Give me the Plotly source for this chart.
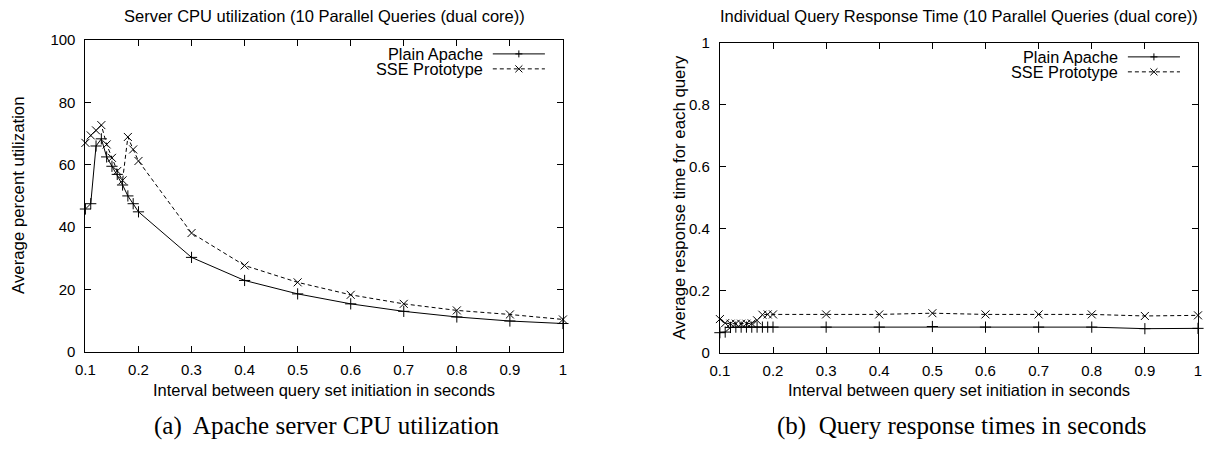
import plotly.graph_objects as go

W, H = 1205, 449
# the photographed page shows up inset by 8px and slightly shrunk; the helpers
# below map target-picture pixels to page fractions accordingly
INSET = 8.0
SX, SY = (W - 2 * INSET) / W, (H - 2 * INSET) / H

# ---------------- data ----------------
interval_s = [0.1, 0.11, 0.12, 0.13, 0.14, 0.15, 0.16, 0.17, 0.18, 0.19, 0.2,
              0.3, 0.4, 0.5, 0.6, 0.7, 0.8, 0.9, 1.0]
cpu_plain_apache = [45.8, 47.5, 66.0, 68.3, 62.5, 59.5, 56.9, 53.5, 50.0, 47.5, 44.9,
                    30.3, 22.9, 18.6, 15.4, 13.0, 11.2, 9.9, 9.1]
cpu_sse_prototype = [67.0, 69.4, 71.0, 72.7, 66.5, 62.2, 58.0, 55.0, 68.9, 64.9, 61.2,
                     38.1, 27.7, 22.3, 18.3, 15.4, 13.3, 12.0, 10.4]
rt_plain_apache = [0.064, 0.066, 0.081, 0.082, 0.082, 0.082, 0.082, 0.082, 0.082, 0.082, 0.082,
                   0.082, 0.082, 0.084, 0.082, 0.082, 0.082, 0.077, 0.078]
rt_sse_prototype = [0.108, 0.095, 0.093, 0.093, 0.093, 0.093, 0.094, 0.104, 0.122, 0.123, 0.123,
                    0.123, 0.123, 0.127, 0.123, 0.123, 0.123, 0.118, 0.120]

x_tickvals = [0.1, 0.2, 0.3, 0.4, 0.5, 0.6, 0.7, 0.8, 0.9, 1.0]
x_ticktext = ["0.1", "0.2", "0.3", "0.4", "0.5", "0.6", "0.7", "0.8", "0.9", "1"]
cpu_tickvals = [0, 20, 40, 60, 80, 100]
rt_tickvals = [0, 0.2, 0.4, 0.6, 0.8, 1]
rt_ticktext = ["0", "0.2", "0.4", "0.6", "0.8", "1"]

series_names = ["Plain Apache", "SSE Prototype"]
titles = ["Server CPU utilization (10 Parallel Queries (dual core))",
          "Individual Query Response Time (10 Parallel Queries (dual core))"]
x_title = "Interval between query set initiation in seconds"
y_titles = ["Average percent utilization", "Average response time for each query"]
captions = ["(a)  Apache server CPU utilization", "(b)  Query response times in seconds"]

# ---------------- helpers ----------------
def px(x):
    return ((x - INSET) / SX) / W

def py(y):
    return 1 - ((y - INSET) / SY) / H

SANS = "Liberation Sans"
SERIF = "Liberation Serif"
FS_TICK = 15
FS_TEXT = 16.5

# plot boxes in target pixels: (left, right, top, bottom)
boxes = [(83.3, 560.0, 39.0, 351.7), (716.7, 1194.0, 42.0, 352.3)]

fig = go.Figure()

line_styles = [dict(color="black", width=1), dict(color="black", width=1, dash="4px,3px")]
marker_styles = [dict(symbol="cross-thin", size=8, line=dict(color="black", width=1), color="black"),
                 dict(symbol="x-thin", size=8, line=dict(color="black", width=1), color="black")]

panels = [
    (cpu_plain_apache, cpu_sse_prototype),
    (rt_plain_apache, rt_sse_prototype),
]
for p, (s1, s2) in enumerate(panels):
    xa = "x" if p == 0 else "x2"
    ya = "y" if p == 0 else "y2"
    for k, vals in enumerate((s1, s2)):
        fig.add_trace(go.Scatter(
            x=interval_s, y=vals, mode="lines+markers", name=series_names[k],
            line=line_styles[k], marker=marker_styles[k], xaxis=xa, yaxis=ya,
            cliponaxis=False, showlegend=False, hoverinfo="skip"))

axis_common = dict(showline=True, linecolor="black", linewidth=1, mirror="ticks",
                   ticks="inside", ticklen=6, tickwidth=1, tickcolor="black",
                   showgrid=False, zeroline=False,
                   tickfont=dict(family=SANS, size=FS_TICK, color="black"))

L, R, T, B = boxes[0]
fig.update_layout(
    xaxis=dict(domain=[px(L), px(R)], range=[0.1, 1.0], tickvals=x_tickvals,
               ticktext=x_ticktext, anchor="y", ticklabelstandoff=4, **axis_common),
    yaxis=dict(domain=[py(B), py(T)], range=[0, 100], tickvals=cpu_tickvals,
               anchor="x", ticklabelstandoff=6, **axis_common),
)
L2, R2, T2, B2 = boxes[1]
fig.update_layout(
    xaxis2=dict(domain=[px(L2), px(R2)], range=[0.1, 1.0], tickvals=x_tickvals,
                ticktext=x_ticktext, anchor="y2", ticklabelstandoff=4, **axis_common),
    yaxis2=dict(domain=[py(B2), py(T2)], range=[0, 1], tickvals=rt_tickvals,
                ticktext=rt_ticktext, anchor="x2", ticklabelstandoff=6, **axis_common),
)

annotations = []
shapes = []
ytitle_x = [17, 677]
caption_dx = [3, 3]
for p, (l, r, t, b) in enumerate(boxes):
    cx = (l + r) / 2
    annotations.append(dict(text=titles[p], x=px(cx), y=py(15), xref="paper", yref="paper",
                            showarrow=False, xanchor="center", yanchor="middle",
                            font=dict(family=SANS, size=FS_TEXT, color="black")))
    annotations.append(dict(text=x_title, x=px(cx), y=py(390), xref="paper", yref="paper",
                            showarrow=False, xanchor="center", yanchor="middle",
                            font=dict(family=SANS, size=FS_TEXT, color="black")))
    annotations.append(dict(text=y_titles[p], x=px(ytitle_x[p]), y=py((t + b) / 2),
                            xref="paper", yref="paper", showarrow=False, textangle=-90,
                            xanchor="center", yanchor="middle",
                            font=dict(family=SANS, size=16.8, color="black")))
    annotations.append(dict(text=captions[p], x=px(cx + caption_dx[p]), y=py(426),
                            xref="paper", yref="paper",
                            showarrow=False, xanchor="center", yanchor="middle",
                            font=dict(family=SERIF, size=25, color="black")))
    # legend (gnuplot style: text, then line sample)
    text_right = r - 78
    s0, s1 = r - 70, r - 18
    for k in range(2):
        yy = t + 14 + 15 * k
        annotations.append(dict(text=series_names[k], x=px(text_right), y=py(yy),
                                xref="paper", yref="paper", showarrow=False,
                                xanchor="right", yanchor="middle",
                                font=dict(family=SANS, size=16.3, color="black")))
        shapes.append(dict(type="line", xref="paper", yref="paper",
                           x0=px(s0), x1=px(s1), y0=py(yy), y1=py(yy),
                           line=dict(color="black", width=1,
                                     dash=None if k == 0 else "4px,3px")))
        mx = (s0 + s1) / 2
        d = 3.5
        if k == 0:
            path = (f"M {px(mx - d)},{py(yy)} L {px(mx + d)},{py(yy)} "
                    f"M {px(mx)},{py(yy - d)} L {px(mx)},{py(yy + d)}")
        else:
            path = (f"M {px(mx - d)},{py(yy - d)} L {px(mx + d)},{py(yy + d)} "
                    f"M {px(mx - d)},{py(yy + d)} L {px(mx + d)},{py(yy - d)}")
        shapes.append(dict(type="path", xref="paper", yref="paper", path=path,
                           line=dict(color="black", width=1)))

fig.update_layout(
    width=W, height=H, margin=dict(l=0, r=0, t=0, b=0),
    paper_bgcolor="white", plot_bgcolor="white",
    annotations=annotations, shapes=shapes, showlegend=False,
    font=dict(family=SANS, size=FS_TICK, color="black"),
)

fig.write_html("out.html", config={"displayModeBar": False},
               post_script="document.body.style.margin='0px';")
